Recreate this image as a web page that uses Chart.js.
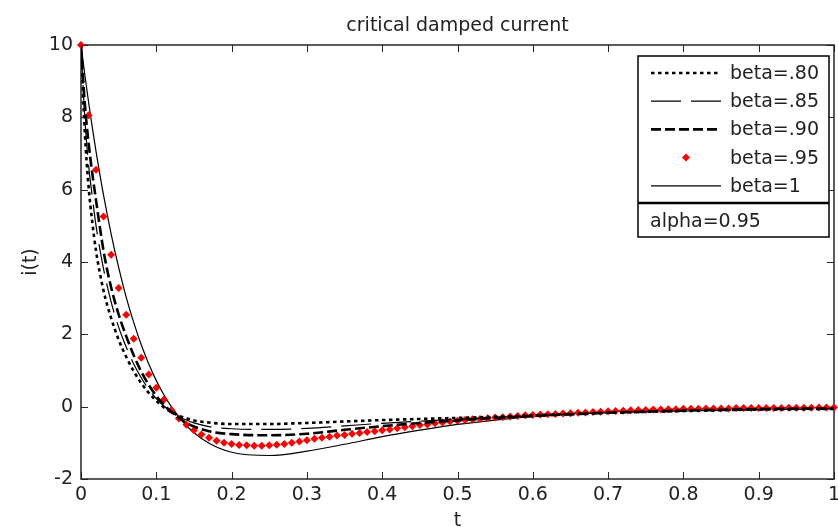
<!DOCTYPE html>
<html>
<head>
<meta charset="utf-8">
<script src="https://cdn.jsdelivr.net/npm/chart.js@4.4.1/dist/chart.umd.min.js"></script>
<style>
  html, body { margin: 0; padding: 0; background: #fff; }
</style>
</head>
<body>
<canvas id="grafica" width="838" height="527"></canvas>
<script>
// tiempos para las curvas negras (no uniforme, mas denso al principio)
const tLinea = [0, 0.005, 0.01, 0.015, 0.02, 0.03, 0.04, 0.05, 0.06, 0.07, 0.08, 0.09, 0.10, 0.11, 0.12, 0.13, 0.14, 0.15,
  0.17, 0.20, 0.25, 0.30, 0.35, 0.40, 0.45, 0.50, 0.55, 0.60, 0.70, 0.80, 0.90, 1.00];

const beta080 = [10, 7.6, 6.1, 5.1, 4.3, 3.2, 2.45, 1.85, 1.38, 0.98, 0.65, 0.38, 0.16, -0.02, -0.15, -0.25, -0.32, -0.38,
  -0.44, -0.48, -0.48, -0.45, -0.41, -0.37, -0.34, -0.31, -0.28, -0.24, -0.17, -0.12, -0.08, -0.06];
const beta085 = [10, 8.0, 6.7, 5.8, 5.0, 3.8, 2.9, 2.2, 1.65, 1.18, 0.8, 0.48, 0.22, 0.02, -0.14, -0.27, -0.37, -0.45,
  -0.55, -0.61, -0.63, -0.60, -0.53, -0.46, -0.40, -0.35, -0.30, -0.25, -0.17, -0.12, -0.08, -0.06];
const beta090 = [10, 8.4, 7.3, 6.45, 5.7, 4.3, 3.3, 2.55, 1.95, 1.42, 0.97, 0.6, 0.3, 0.05, -0.14, -0.31, -0.45, -0.55,
  -0.68, -0.76, -0.79, -0.75, -0.64, -0.54, -0.45, -0.38, -0.31, -0.26, -0.17, -0.11, -0.07, -0.05];
const beta100 = [10, 9.19, 8.43, 7.72, 7.05, 5.84, 4.78, 3.85, 3.03, 2.33, 1.71, 1.18, 0.72, 0.33, 0.0, -0.28, -0.52, -0.72,
  -1.01, -1.26, -1.35, -1.23, -1.04, -0.83, -0.65, -0.49, -0.37, -0.27, -0.14, -0.07, -0.04, -0.02];

// beta=.95 va con marcadores cada 0.01
const tPuntos = [0, 0.01, 0.02, 0.03, 0.04, 0.05, 0.06, 0.07, 0.08, 0.09,
  0.10, 0.11, 0.12, 0.13, 0.14, 0.15, 0.16, 0.17, 0.18, 0.19,
  0.20, 0.21, 0.22, 0.23, 0.24, 0.25, 0.26, 0.27, 0.28, 0.29,
  0.30, 0.31, 0.32, 0.33, 0.34, 0.35, 0.36, 0.37, 0.38, 0.39,
  0.40, 0.41, 0.42, 0.43, 0.44, 0.45, 0.46, 0.47, 0.48, 0.49,
  0.50, 0.51, 0.52, 0.53, 0.54, 0.55, 0.56, 0.57, 0.58, 0.59,
  0.60, 0.61, 0.62, 0.63, 0.64, 0.65, 0.66, 0.67, 0.68, 0.69,
  0.70, 0.71, 0.72, 0.73, 0.74, 0.75, 0.76, 0.77, 0.78, 0.79,
  0.80, 0.81, 0.82, 0.83, 0.84, 0.85, 0.86, 0.87, 0.88, 0.89,
  0.90, 0.91, 0.92, 0.93, 0.94, 0.95, 0.96, 0.97, 0.98, 0.99, 1.00];
const beta095 = [10, 8.06, 6.55, 5.26, 4.20, 3.28, 2.54, 1.88, 1.35, 0.89,
  0.52, 0.19, -0.10, -0.33, -0.50, -0.65, -0.77, -0.86, -0.94, -1.00,
  -1.03, -1.06, -1.07, -1.08, -1.08, -1.07, -1.05, -1.03, -1.00, -0.96,
  -0.93, -0.89, -0.86, -0.83, -0.80, -0.78, -0.75, -0.73, -0.70, -0.68,
  -0.65, -0.63, -0.60, -0.57, -0.54, -0.51, -0.49, -0.46, -0.44, -0.41,
  -0.39, -0.37, -0.35, -0.34, -0.32, -0.30, -0.29, -0.27, -0.26, -0.24,
  -0.23, -0.22, -0.21, -0.20, -0.19, -0.18, -0.17, -0.16, -0.15, -0.14,
  -0.13, -0.12, -0.11, -0.10, -0.09, -0.09, -0.08, -0.08, -0.07, -0.07,
  -0.06, -0.06, -0.06, -0.05, -0.05, -0.05, -0.05, -0.04, -0.04, -0.04,
  -0.04, -0.04, -0.04, -0.04, -0.03, -0.03, -0.03, -0.03, -0.02, -0.02, -0.02];

const etiquetas = ['beta=.80', 'beta=.85', 'beta=.90', 'beta=.95', 'beta=1'];
const titulo = 'critical damped current';
const notaAlpha = 'alpha=0.95';

const fuente = "'DejaVu Sans', sans-serif";
const colorTexto = '#222';
Chart.defaults.font.family = fuente;
Chart.defaults.font.size = 19;
Chart.defaults.color = colorTexto;

const pares = (ts, ys) => ts.map((t, i) => ({ x: t, y: ys[i] }));

const linea = (label, ys, ancho, guiones) => ({
  label: label,
  data: pares(tLinea, ys),
  borderColor: '#000',
  borderWidth: ancho,
  borderDash: guiones,
  pointRadius: 0,
  fill: false,
  cubicInterpolationMode: 'monotone'
});

const datasets = [
  linea(etiquetas[0], beta080, 2.6, [3.5, 3.5]),
  linea(etiquetas[1], beta085, 1.2, [30, 10]),
  linea(etiquetas[2], beta090, 2.6, [10, 4]),
  {
    label: etiquetas[3],
    data: pares(tPuntos, beta095),
    showLine: false,
    pointStyle: 'rectRot',
    pointRadius: 4,
    pointBackgroundColor: '#ff0000',
    pointBorderColor: '#ff0000',
    pointBorderWidth: 0,
    borderColor: '#ff0000',
    clip: false
  },
  linea(etiquetas[4], beta100, 1.2, [])
];

// marco, ticks hacia dentro, titulo, etiquetas y leyenda estilo matlab
const marco = {
  id: 'marco',
  beforeDatasetsDraw(chart) {
    const { ctx, chartArea: a, scales: { x, y } } = chart;
    ctx.save();
    ctx.strokeStyle = '#262626';
    ctx.lineWidth = 1;
    ctx.beginPath();
    x.ticks.forEach(tk => {
      const px = Math.round(x.getPixelForValue(tk.value)) + 0.5;
      ctx.moveTo(px, a.bottom); ctx.lineTo(px, a.bottom - 7);
      ctx.moveTo(px, a.top); ctx.lineTo(px, a.top + 7);
    });
    y.ticks.forEach(tk => {
      const py = Math.round(y.getPixelForValue(tk.value)) + 0.5;
      ctx.moveTo(a.left, py); ctx.lineTo(a.left + 7, py);
      ctx.moveTo(a.right, py); ctx.lineTo(a.right - 7, py);
    });
    ctx.stroke();
    ctx.lineWidth = 1.5;
    ctx.strokeRect(a.left, a.top, a.right - a.left, a.bottom - a.top);
    ctx.restore();
  },
  afterDatasetsDraw(chart) {
    const { ctx, chartArea: a } = chart;
    ctx.save();
    ctx.fillStyle = colorTexto;
    ctx.font = '19px ' + fuente;
    ctx.textAlign = 'center';
    ctx.textBaseline = 'alphabetic';
    ctx.fillText(titulo, (a.left + a.right) / 2, 31);
    ctx.fillText('t', (a.left + a.right) / 2, 526);
    ctx.save();
    ctx.translate(31, (a.top + a.bottom) / 2);
    ctx.rotate(-Math.PI / 2);
    ctx.textBaseline = 'middle';
    ctx.fillText('i(t)', 0, 0);
    ctx.restore();

    // leyenda
    const L = 638, T = 56, R = 829, B = 237;
    ctx.fillStyle = '#fff';
    ctx.fillRect(L, T, R - L, B - T);
    ctx.strokeStyle = '#000';
    ctx.lineWidth = 1.5;
    ctx.strokeRect(L, T, R - L, B - T);
    ctx.lineWidth = 2.5;
    ctx.beginPath();
    ctx.moveTo(L, 203); ctx.lineTo(R, 203);
    ctx.stroke();

    chart.data.datasets.forEach((ds, i) => {
      const fy = 73 + i * 28.2;
      if (ds.showLine === false) {
        ctx.fillStyle = ds.pointBackgroundColor;
        ctx.beginPath();
        ctx.moveTo(686, fy - 4); ctx.lineTo(690, fy); ctx.lineTo(686, fy + 4); ctx.lineTo(682, fy);
        ctx.closePath();
        ctx.fill();
      } else {
        ctx.strokeStyle = ds.borderColor;
        ctx.lineWidth = ds.borderWidth;
        ctx.setLineDash(ds.borderDash);
        ctx.beginPath();
        ctx.moveTo(651, fy); ctx.lineTo(721, fy);
        ctx.stroke();
        ctx.setLineDash([]);
      }
      ctx.fillStyle = colorTexto;
      ctx.textAlign = 'left';
      ctx.textBaseline = 'middle';
      ctx.fillText(ds.label, 730, fy + 1);
    });
    ctx.fillText(notaAlpha, 650, 222);
    ctx.restore();
  }
};

const sinRelleno = (s) => { s.paddingLeft = 0; s.paddingRight = 0; s.paddingTop = 0; s.paddingBottom = 0; };

new Chart(document.getElementById('grafica'), {
  type: 'line',
  data: { datasets: datasets },
  options: {
    responsive: false,
    animation: false,
    layout: { padding: { top: 45, right: 1, left: 1, bottom: 0 } },
    plugins: {
      legend: { display: false },
      title: { display: false },
      tooltip: { enabled: false }
    },
    scales: {
      x: {
        type: 'linear',
        min: 0,
        max: 1,
        ticks: {
          stepSize: 0.1, padding: 5, maxRotation: 0, autoSkip: false,
          callback: (v) => String(Number(v.toFixed(1)))
        },
        grid: { display: false, drawTicks: false },
        border: { display: false },
        afterFit(s) { s.height = 48; sinRelleno(s); }
      },
      y: {
        min: -2,
        max: 10,
        ticks: { stepSize: 2, padding: 8 },
        grid: { display: false, drawTicks: false },
        border: { display: false },
        afterFit(s) { s.width = 80; sinRelleno(s); }
      }
    }
  },
  plugins: [marco]
});
</script>
</body>
</html>
